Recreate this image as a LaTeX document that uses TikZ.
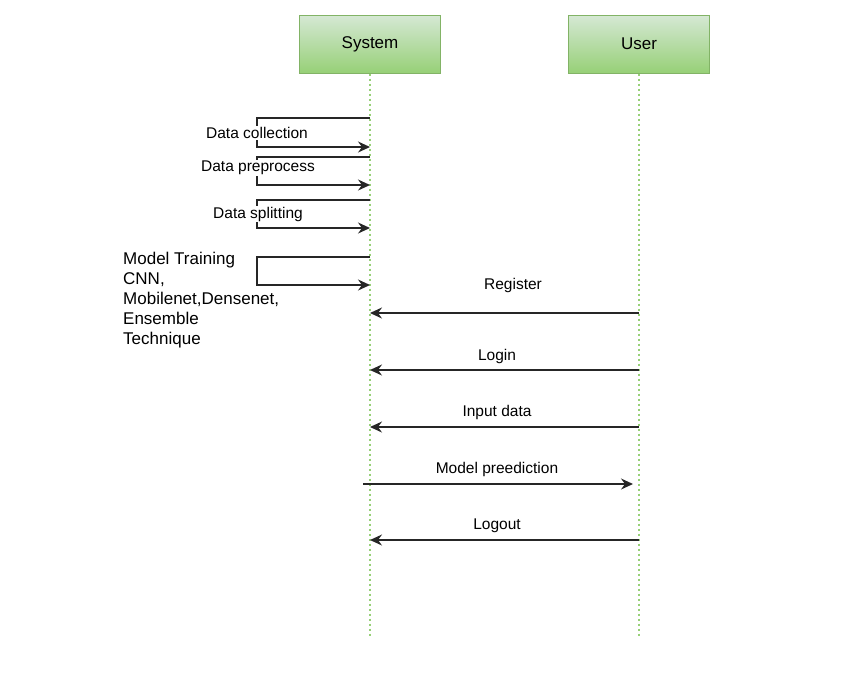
\documentclass[tikz,border=0pt]{standalone}
\usepackage{fontspec}
\setmainfont{Liberation Sans}
\usetikzlibrary{positioning,arrows.meta,calc}
\definecolor{boxtop}{HTML}{D5E8D4}
\definecolor{boxbot}{HTML}{97D077}
\definecolor{boxline}{HTML}{82B366}
\definecolor{lifeline}{HTML}{97D077}

\begin{document}
\begin{tikzpicture}[x=1pt,y=-1pt,
  actor/.style={draw=boxline,line width=1pt,top color=boxtop,bottom color=boxbot,minimum width=141pt,minimum height=58pt,font=\fontsize{17}{19}\selectfont},
  life/.style={draw=lifeline,line width=1.6pt,dash pattern=on 2pt off 3pt},
  msg/.style={-{Stealth[length=12pt,width=11pt,inset=4pt]},line width=1.4pt,color=black!85},
  lbl/.style={font=\fontsize{15.5}{17}\selectfont,inner sep=1pt,fill=white}
]
  \useasboundingbox (0,0) rectangle (861,673);
  \node[actor] (sys) at (370,44) {System};
  \node[actor] (usr) at (639,44) {User};
  \coordinate (sysend) at (370,638);
  \coordinate (usrend) at (639,638);
  \draw[life] (sys.south)--(sysend);
  \draw[life] (usr.south)--(usrend);

  % self messages on the system lifeline
  \coordinate (col1) at (370,118); \coordinate (col2) at (370,147);
  \coordinate (pre1) at (370,157); \coordinate (pre2) at (370,185);
  \coordinate (spl1) at (370,200); \coordinate (spl2) at (370,228);
  \coordinate (trn1) at (370,257); \coordinate (trn2) at (370,285);
  \draw[msg] (col1) -- ++(-113,0) -- ++(0,29) -- (col2);
  \draw[msg] (pre1) -- ++(-113,0) -- ++(0,28) -- (pre2);
  \draw[msg] (spl1) -- ++(-113,0) -- ++(0,28) -- (spl2);
  \draw[msg] (trn1) -- ++(-113,0) -- ++(0,28) -- (trn2);
  \node[lbl] (lcol) at (257,133) {Data collection};
  \node[lbl] (lpre) at (258,168) {Data preprocess};
  \node[lbl] (lspl) at (258,214) {Data splitting};
  \node[font=\fontsize{17}{20}\selectfont,align=left,anchor=north west,inner sep=0pt] (ltrn) at (123,252)
    {Model Training\\CNN,\\Mobilenet,Densenet,\\Ensemble\\Technique};

  % messages between user and system
  \coordinate (reg1) at (639,313); \coordinate (reg2) at (370,313);
  \coordinate (log1) at (639,370); \coordinate (log2) at (370,370);
  \coordinate (inp1) at (639,427); \coordinate (inp2) at (370,427);
  \coordinate (prd1) at (363,484); \coordinate (prd2) at (633,484);
  \coordinate (out1) at (639,540); \coordinate (out2) at (370,540);
  \draw[msg] (reg1)--(reg2);
  \draw[msg] (log1)--(log2);
  \draw[msg] (inp1)--(inp2);
  \draw[msg] (prd1)--(prd2);
  \draw[msg] (out1)--(out2);
  \node[lbl] (lreg) at (513,285) {Register};
  \node[lbl] (llog) at (497,356) {Login};
  \node[lbl] (linp) at (497,412) {Input data};
  \node[lbl] (lprd) at (497,469) {Model preediction};
  \node[lbl] (lout) at (497,526) {Logout};
\end{tikzpicture}
\end{document}
